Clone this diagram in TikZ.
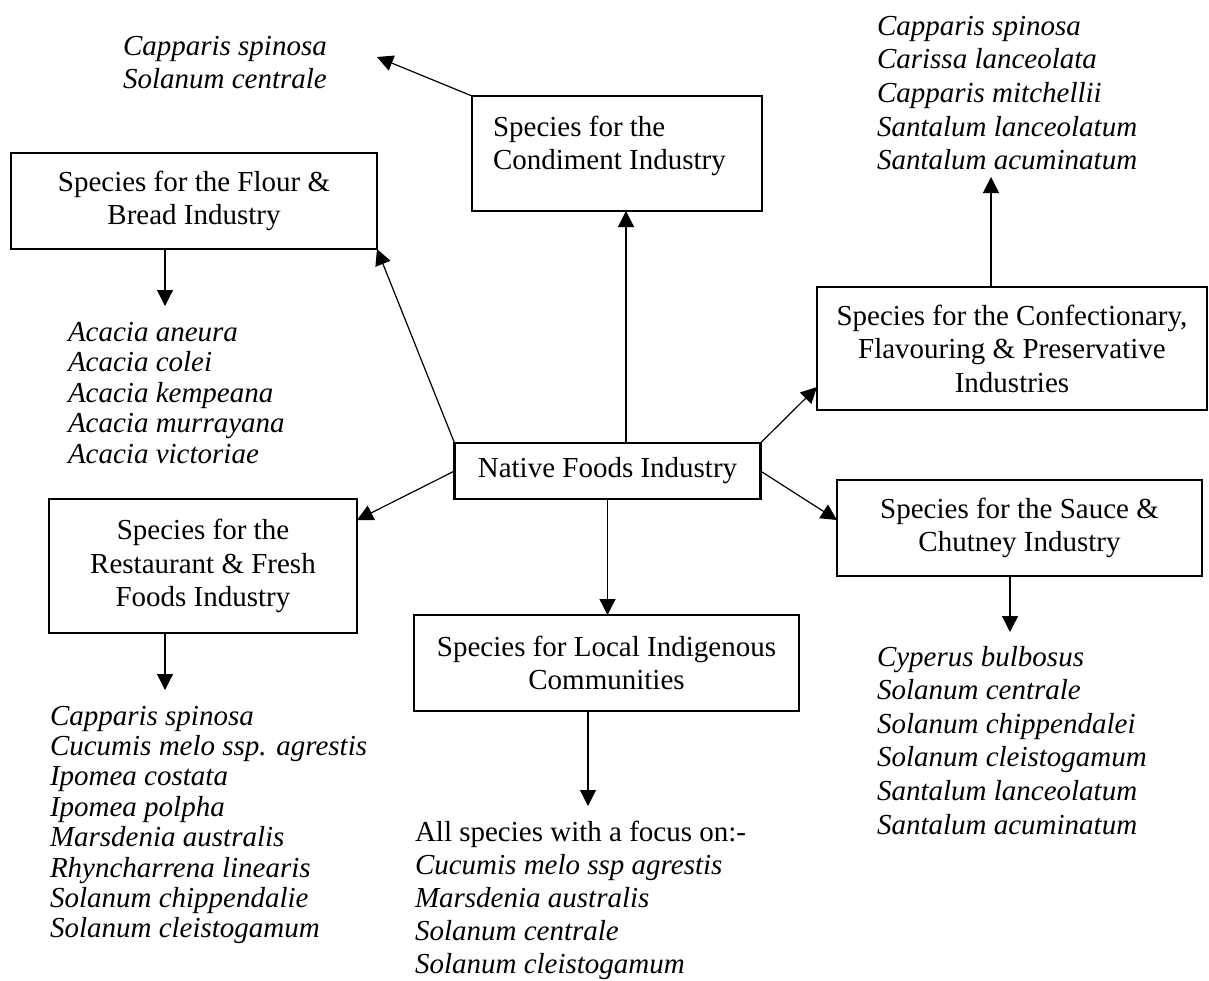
\documentclass[tikz,border=0pt]{standalone}
\usepackage{fontspec}
\setmainfont{Liberation Serif}
\usetikzlibrary{arrows.meta}
\newcommand\splist[2]{\vtop{\baselineskip=#1\relax\lineskiplimit=-100pt\itshape\halign{##\hfil\cr#2\crcr}}}
\begin{document}
\begin{tikzpicture}[x=0.5pt,y=-0.5pt,
  every node/.style={inner sep=0pt, outer sep=0pt, font=\fontsize{14.5}{16.75}\selectfont},
  box/.style={draw, line width=0.6pt, align=center},
  arr/.style={line width=0.6pt, -{Triangle[length=8pt,width=8pt]}},
]
\useasboundingbox (0,0) rectangle (1209,980);

% boxes
\node[box, minimum width=145pt, minimum height=57.5pt] (cond) at (617,153.5) {};
\node[anchor=base west] (condtxt) at (493,136) {\splist{16.75pt}{\upshape Species for the\cr\upshape Condiment Industry}};
\node[box, minimum width=183pt, minimum height=48pt] (flour) at (194,201) {Species for the Flour \&\\Bread Industry};
\node[box, minimum width=195pt, minimum height=61.5pt] (conf) at (1012,348.5) {Species for the Confectionary,\\Flavouring \& Preservative\\Industries};
\node[box, line width=1.4pt, minimum width=153pt, minimum height=28pt] (central) at (607.5,471) {Native Foods Industry};
\node[box, minimum width=182.5pt, minimum height=48pt] (sauce) at (1019.5,528) {Species for the Sauce \&\\Chutney Industry};
\node[box, minimum width=154pt, minimum height=67pt] (rest) at (203,566) {Species for the\\Restaurant \& Fresh\\Foods Industry};
\node[box, minimum width=192.5pt, minimum height=48pt] (local) at (606.5,663) {Species for Local Indigenous\\Communities};

% lists
\node[anchor=base west] (tl) at (123,55) {\splist{16.85pt}{Capparis spinosa\cr Solanum centrale}};
\node[anchor=base west] (tr) at (877,35) {\splist{16.85pt}{Capparis spinosa\cr Carissa lanceolata\cr Capparis mitchellii\cr Santalum lanceolatum\cr Santalum acuminatum}};
\node[anchor=base west] (acacia) at (68,341) {\splist{15.3pt}{Acacia aneura\cr Acacia colei\cr Acacia kempeana\cr Acacia murrayana\cr Acacia victoriae}};
\node[anchor=base west] (restlist) at (50,725) {\splist{15.2pt}{Capparis spinosa\cr Cucumis melo ssp. agrestis\cr Ipomea costata\cr Ipomea polpha\cr Marsdenia australis\cr Rhyncharrena linearis\cr Solanum chippendalie\cr Solanum cleistogamum}};
\node[anchor=base west] (saucelist) at (877,666) {\splist{16.8pt}{Cyperus bulbosus\cr Solanum centrale\cr Solanum chippendalei\cr Solanum cleistogamum\cr Santalum lanceolatum\cr Santalum acuminatum}};
\node[anchor=base west] (locallist) at (415,841) {\splist{16.5pt}{\upshape All species with a focus on:-\cr Cucumis melo ssp agrestis\cr Marsdenia australis\cr Solanum centrale\cr Solanum cleistogamum}};

% coordinates for connector positions
\coordinate (c1) at (626,0);
\coordinate (tlarr) at (377,57);
\coordinate (fx) at (165,306);
\coordinate (cy) at (0,387);
\coordinate (confup) at (991,177);
\coordinate (ry) at (0,520);
\coordinate (sy) at (0,520);
\coordinate (lx) at (588,806);
\coordinate (rx) at (165,690);
\coordinate (sx) at (1010,632);

% connectors
\draw[arr] (central.north -| c1) -- (cond.south -| c1);
\draw[arr] (cond.north west) -- (tlarr);
\draw[arr] (flour.south -| fx) -- (fx);
\draw[arr] (central.north west) -- (flour.south east);
\draw[arr] (central.north east) -- (conf.west |- cy);
\draw[arr] (conf.north -| confup) -- (confup);
\draw[arr] (central.west) -- (rest.east |- ry);
\draw[arr] (central.east) -- (sauce.west |- sy);
\draw[arr] (central.south) -- (central.south |- local.north);
\draw[arr] (local.south -| lx) -- (lx);
\draw[arr] (rest.south -| rx) -- (rx);
\draw[arr] (sauce.south -| sx) -- (sx);
\end{tikzpicture}
\end{document}
